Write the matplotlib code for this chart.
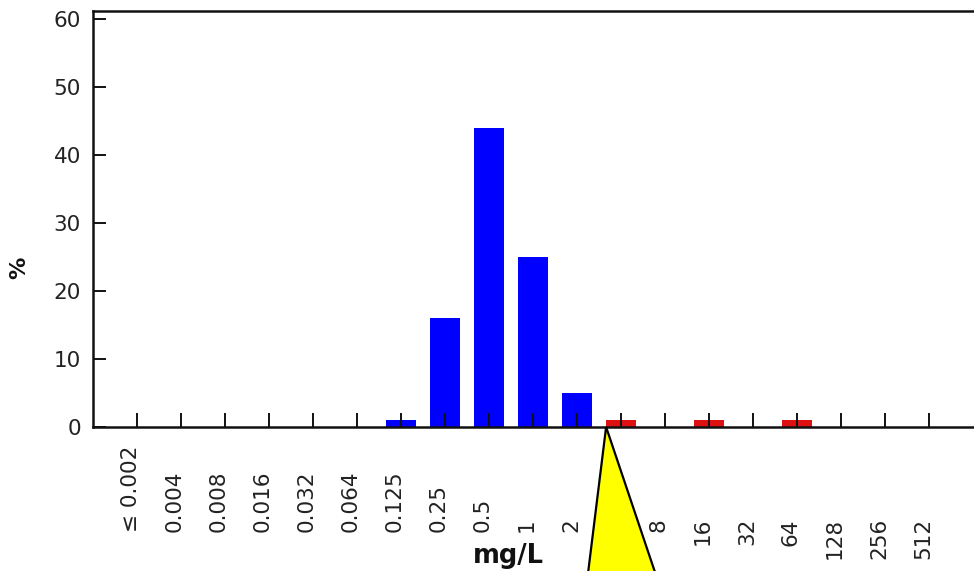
import matplotlib
matplotlib.use("Agg")
import matplotlib.pyplot as plt
from matplotlib.patches import Polygon
import matplotlib.transforms as mtransforms

categories = ["≤ 0.002", "0.004", "0.008", "0.016", "0.032", "0.064", "0.125",
              "0.25", "0.5", "1", "2", "4", "8", "16", "32", "64", "128", "256", "512"]
values = [0, 0, 0, 0, 0, 0, 1, 16, 44, 25, 5, 1, 0, 1, 0, 1, 0, 0, 0]
# breakpoint: bars at or above this category are coloured red
resistant_from = "4"

yticks = [0, 10, 20, 30, 40, 50, 60]

W, H = 974, 571
fig = plt.figure(figsize=(W / 100, H / 100), dpi=100)
ax = fig.add_axes([93 / W, (H - 427) / H, (W - 93) / W, 416 / H])

bar_w = 0.68
bp = categories.index(resistant_from)
colors = ["#0000FF" if i < bp else "#DD1111" for i in range(len(categories))]
x = list(range(len(categories)))
ax.bar(x, values, width=bar_w, color=colors, zorder=2)

ax.set_xlim(-1.0, 19.02)
ax.set_ylim(0, 61.2)
ax.set_yticks(yticks)
ax.set_yticklabels([str(v) for v in yticks])
ax.set_xticks(x)
ax.set_xticklabels([])

for side in ["left", "bottom", "top"]:
    ax.spines[side].set_linewidth(1.8)
    ax.spines[side].set_color("#111111")
    ax.spines[side].set_zorder(4)
ax.spines["right"].set_visible(False)

ax.tick_params(axis="both", direction="in", width=1.4, color="#111111")
ax.tick_params(axis="x", length=10, top=False)
ax.tick_params(axis="y", length=9, pad=8.6, labelsize=15.5, labelcolor="#222222", right=False)
for t in ax.xaxis.get_major_ticks():
    t.tick1line.set_zorder(5)
ax.set_axisbelow(False)

# x tick labels (rotated), positioned as in reference
trans = mtransforms.blended_transform_factory(ax.transData, fig.transFigure)
for i, lab in enumerate(categories):
    if i < bp + 1:
        ax.text(i - 0.14, (H - 532) / H, lab, rotation=90, ha="center", va="bottom",
                fontsize=15.5, color="#222222", transform=trans, clip_on=False, zorder=3)
    else:
        ax.text(i - 0.14, (H - 518) / H, lab, rotation=90, ha="center", va="top",
                fontsize=15.5, color="#222222", transform=trans, clip_on=False, zorder=3)

# axis titles
fig.text(508 / W, (H - 556) / H, "mg/L", ha="center", va="center",
         fontsize=18.5, fontweight="bold", color="#111111")
fig.text(19 / W, (H - 268) / H, "%", ha="center", va="center", rotation=90,
         fontsize=16, fontweight="bold", color="#111111")

# breakpoint marker triangle
apex_x = bp - bar_w / 2
tri = Polygon([[apex_x, 0], [apex_x - 0.43, -22.5], [apex_x + 1.17, -22.5]],
              closed=True, facecolor="#FFFF00", edgecolor="black", linewidth=1.6,
              clip_on=False, zorder=10)
ax.add_patch(tri)

fig.savefig("out.png", dpi=100)
